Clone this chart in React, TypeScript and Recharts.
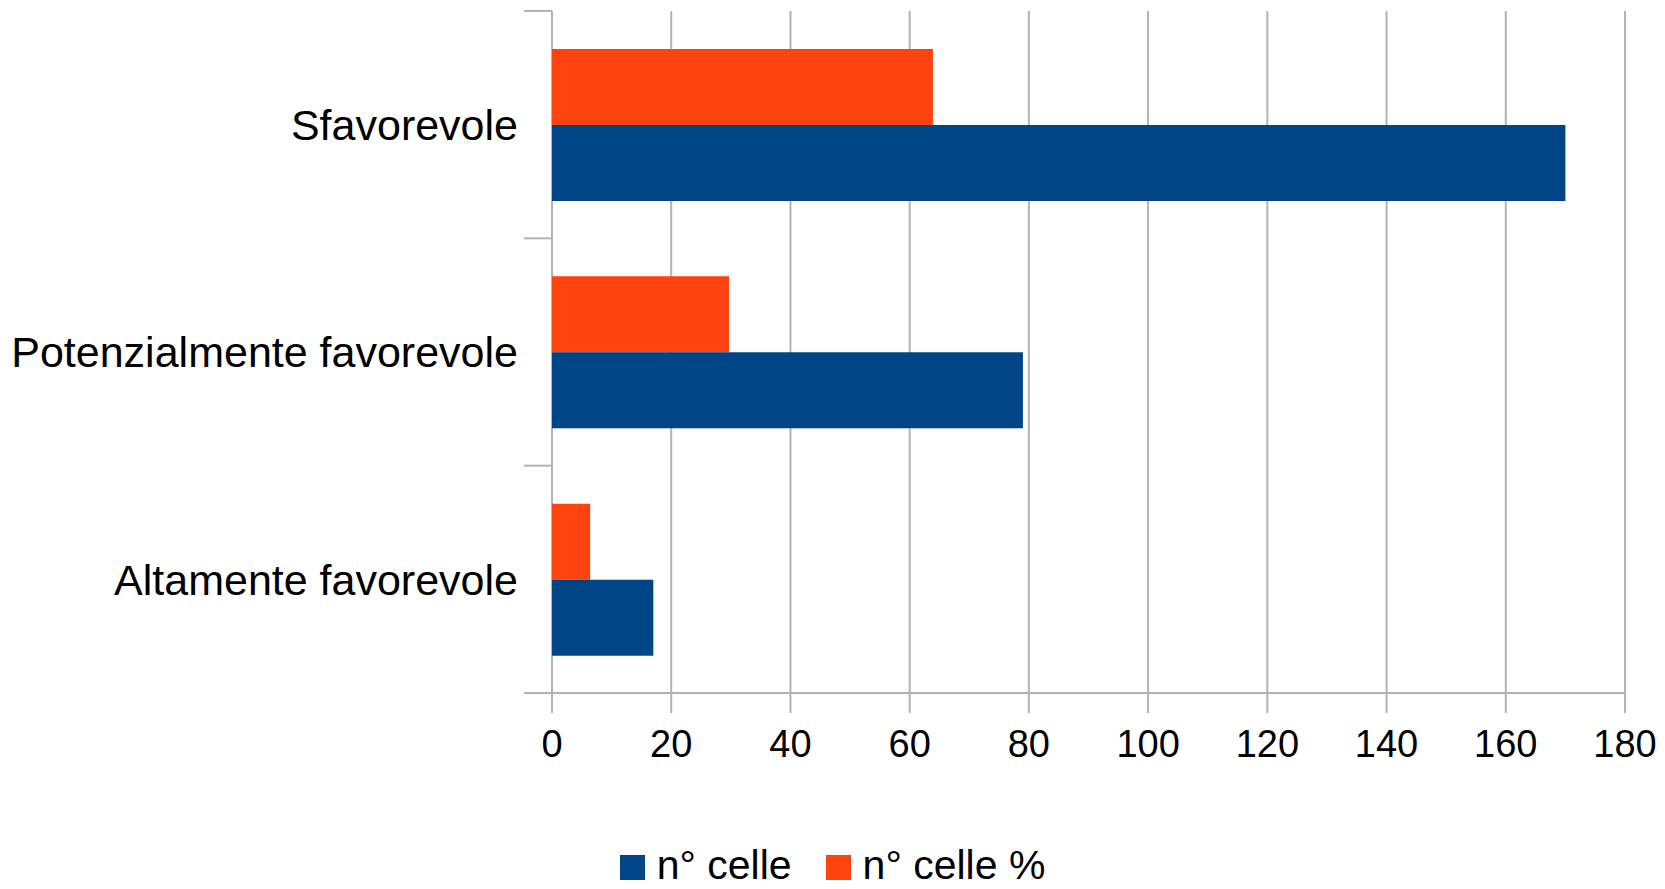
import React from "react";
import { BarChart, Bar, XAxis, YAxis, CartesianGrid, Legend } from "recharts";

const categories = ["Sfavorevole", "Potenzialmente favorevole", "Altamente favorevole"];
const nCelle = [170, 79, 17];
const nCellePct = [63.9, 29.7, 6.4];
const xTicks = [0, 20, 40, 60, 80, 100, 120, 140, 160, 180];

const BLUE = "#004586";
const ORANGE = "#ff420e";
const GRID = "#b3b3b3";
const FONT = "'Liberation Sans', Arial, sans-serif";

const data = categories.map((name, i) => ({ name, celle: nCelle[i], pct: nCellePct[i] }));

// category label + LibreOffice-style tick marks on the band boundaries
function CategoryTick(props: any) {
  const { x, y, payload, index, visibleTicksCount } = props;
  const half = payload?.offset ?? 0;
  const x1 = x + 6;
  const x2 = x + 34;
  const last = index === (visibleTicksCount ?? categories.length) - 1;
  return (
    <g>
      <line x1={x1} x2={x2} y1={y - half} y2={y - half} stroke={GRID} strokeWidth={2} />
      {last && <line x1={x1} x2={x2} y1={y + half} y2={y + half} stroke={GRID} strokeWidth={2} />}
      <text x={x} y={y} dy="0.355em" textAnchor="end" fontSize={43} fill="#000" fontFamily={FONT}>
        {payload.value}
      </text>
    </g>
  );
}

const legendItems = [
  { label: "n° celle", color: BLUE },
  { label: "n° celle %", color: ORANGE },
];

function LegendContent() {
  return (
    <div style={{ display: "flex", justifyContent: "center", alignItems: "flex-end", fontFamily: FONT, fontSize: 41, color: "#000", lineHeight: 1 }}>
      {legendItems.map((it, i) => (
        <div key={it.label} style={{ display: "flex", alignItems: "flex-end", marginLeft: i ? 34 : 0 }}>
          <span style={{ width: 25, height: 25, background: it.color, marginRight: 12, marginBottom: 6 }} />
          <span>{it.label}</span>
        </div>
      ))}
    </div>
  );
}

export default function App() {
  return (
    <div style={{ position: "absolute", left: 0, top: 0, background: "#fff" }}>
      <BarChart
        width={1665}
        height={889}
        data={data}
        layout="vertical"
        margin={{ top: 11, right: 40, left: 0, bottom: 116 }}
        barCategoryGap="16.7%"
        barGap={0}
      >
        <CartesianGrid horizontal={false} stroke={GRID} strokeWidth={2} />
        <XAxis
          type="number"
          domain={[0, 180]}
          ticks={xTicks}
          interval={0}
          height={80}
          tickSize={20}
          tickMargin={17}
          axisLine={{ stroke: GRID, strokeWidth: 2 }}
          tickLine={{ stroke: GRID, strokeWidth: 2 }}
          tick={{ fontSize: 38, fill: "#000", fontFamily: FONT }}
        />
        <XAxis
          xAxisId="top"
          orientation="top"
          type="number"
          domain={[0, 180]}
          height={0}
          tick={false}
          tickLine={false}
          axisLine={{ stroke: GRID, strokeWidth: 2 }}
        />
        <YAxis
          type="category"
          dataKey="name"
          width={552}
          tickSize={28}
          tickMargin={6}
          axisLine={false}
          tickLine={false}
          interval={0}
          tick={<CategoryTick />}
        />
        <Legend
          layout="horizontal"
          verticalAlign="middle"
          content={<LegendContent />}
          wrapperStyle={{ top: 845, left: 0, width: 1665 }}
        />
        <Bar dataKey="pct" name="n° celle %" fill={ORANGE} isAnimationActive={false} />
        <Bar dataKey="celle" name="n° celle" fill={BLUE} isAnimationActive={false} />
      </BarChart>
    </div>
  );
}
